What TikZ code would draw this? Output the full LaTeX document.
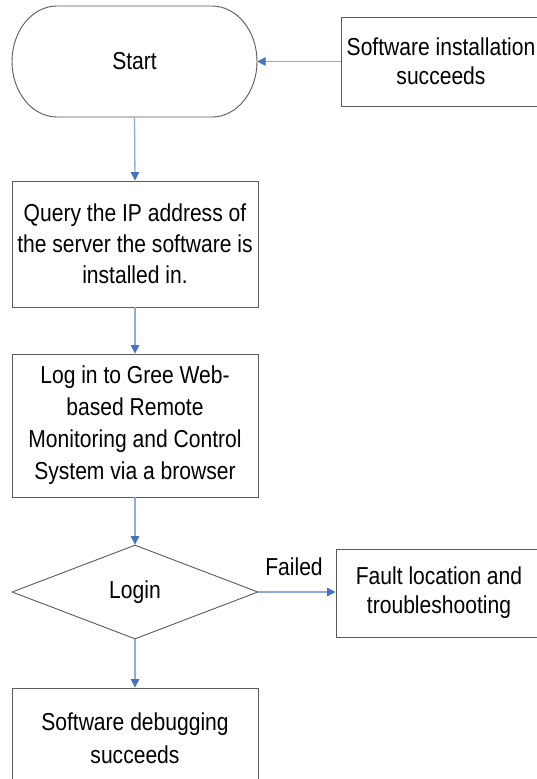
\documentclass[tikz,border=0pt]{standalone}
\usepackage{fontspec}
\setmainfont{Liberation Sans}[FakeStretch=0.86]
\usetikzlibrary{shapes.geometric,arrows.meta}
\definecolor{lineblue}{HTML}{8FAADC}
\definecolor{headblue}{HTML}{4472C4}
\definecolor{edgegray}{HTML}{5A5A5A}
\begin{document}
\begin{tikzpicture}[x=1pt,y=-1pt,
  every node/.style={font=\fontsize{24.5}{30}\selectfont, text=black},
  procbox/.style={draw=edgegray, line width=0.9pt, rectangle, align=center, inner sep=0pt},
  flow/.style={draw=lineblue, line width=1.3pt, -{Triangle[length=8.5pt,width=8.5pt,fill=headblue,color=headblue]}}
]
\useasboundingbox[fill=white] (0,0) rectangle (536,779);

% Start terminal
\draw[draw=edgegray, line width=0.9pt] (57,6) -- (212,6)
  arc[start angle=90, end angle=-90, x radius=45pt, y radius=55.5pt]
  -- (57,117)
  arc[start angle=270, end angle=90, x radius=45pt, y radius=55.5pt] -- cycle;
\node[minimum width=245pt, minimum height=111pt, inner sep=0pt] (start) at (134.5,61.5) {Start};

\node[procbox, minimum width=200pt, minimum height=89pt, font=\fontsize{24.5}{29}\selectfont] (soft) at (441,61.5) {Software installation\\succeeds};

\node[procbox, minimum width=246pt, minimum height=126pt, font=\fontsize{24.5}{31}\selectfont] (query) at (135,244) {Query the IP address of\\the server the software is\\installed in.};

\node[procbox, minimum width=246pt, minimum height=143pt, font=\fontsize{24.5}{32}\selectfont] (log) at (135,425.5) {Log in to Gree Web-\\based Remote\\Monitoring and Control\\System via a browser};

\node[diamond, draw=edgegray, line width=0.9pt, aspect=2.6, inner sep=0pt, minimum width=246pt, minimum height=94pt] (login) at (135,592) {Login};

\node[procbox, minimum width=206pt, minimum height=88pt, font=\fontsize{24.5}{29}\selectfont] (fault) at (439,593) {Fault location and\\troubleshooting};

\node[procbox, minimum width=246pt, minimum height=100pt, font=\fontsize{24.5}{33}\selectfont] (final) at (135,738) {Software debugging\\succeeds};

\node (failed) at (294,567) {Failed};

\draw[flow] (soft.west) -- (start.east);
\draw[flow] (start.south) -- (query.north);
\draw[flow] (query.south) -- (log.north);
\draw[flow] (log.south) -- (login.north);
\draw[flow] (login.east) -- (login.east -| fault.west);
\draw[flow] (login.south) -- (final.north);
\end{tikzpicture}
\end{document}
